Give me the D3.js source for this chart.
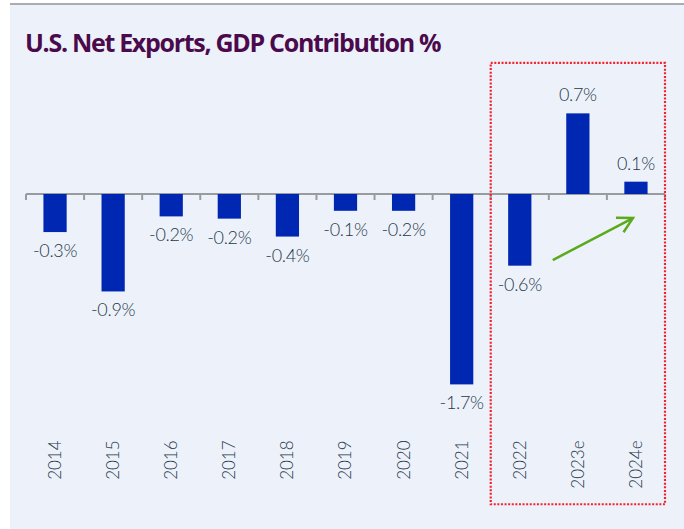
<!DOCTYPE html>
<html>
<head>
<meta charset="utf-8">
<script src="https://cdn.jsdelivr.net/npm/d3@7"></script>
<style>
  body { margin: 0; background: #fff; }
  .chart { width: 684px; height: 529px; }
</style>
</head>
<body>
<div class="chart"></div>
<script>
// data
const years = ['2014', '2015', '2016', '2017', '2018', '2019', '2020', '2021', '2022', '2023e', '2024e']
const values = [-0.34, -0.87, -0.2, -0.22, -0.38, -0.15, -0.15, -1.7, -0.64, 0.72, 0.11]
const valueLabels = ['-0.3%', '-0.9%', '-0.2%', '-0.2%', '-0.4%', '-0.1%', '-0.2%', '-1.7%', '-0.6%', '0.7%', '0.1%']
const highlighted = ['2022', '2023e', '2024e']

const W = 684, H = 529
const margin = {top: 54, right: 19, bottom: 111, left: 26}
const width = W - margin.left - margin.right
const height = H - margin.top - margin.bottom
const textColor = '#26374a'

const svg = d3.select('.chart')
  .append('svg')
    .attr('width', W)
    .attr('height', H)

// panel background + top rule
svg.append('rect')
  .attr('x', 10).attr('y', 4)
  .attr('width', W - 10).attr('height', H - 4)
  .attr('fill', '#edf2fa')
svg.append('line')
  .attr('x1', 10).attr('x2', W)
  .attr('y1', 4).attr('y2', 4)
  .attr('stroke', '#a9adb3')
  .attr('stroke-width', 2)

svg.append('text')
  .attr('x', 25).attr('y', 52)
  .attr('fill', '#4a0a4c')
  .style('font-family', '"Open Sans", sans-serif')
  .style('font-weight', 700)
  .style('font-size', '25px')
  .style('letter-spacing', '-1.3px')
  .text('U.S. Net Exports, GDP Contribution %')

const g = svg.append('g')
  .attr('transform', `translate(${margin.left}, ${margin.top})`)

const xScale = d3.scaleBand()
  .domain(years)
  .range([0, width])
  .paddingInner(0.6)
  .paddingOuter(0.3)

const yScale = d3.scaleLinear()
  .domain([-2, 1.25])
  .range([height, 0])

const slot = width / years.length   // one year's slot, ticks sit on its edges
const mid = d => xScale(d) + xScale.bandwidth() / 2

// zero line with ticks between bars
const zeroY = yScale(0)
g.append('line')
  .attr('x1', 0).attr('x2', width)
  .attr('y1', zeroY).attr('y2', zeroY)
  .attr('stroke', '#999c9f')
  .attr('stroke-width', 2)

const tickX = years.map(d => mid(d) - slot / 2)
tickX.push(width)
g.selectAll('.tick-mark')
  .data(tickX)
  .enter()
  .append('line')
    .attr('class', 'tick-mark')
    .attr('x1', d => d).attr('x2', d => d)
    .attr('y1', zeroY).attr('y2', zeroY + 6)
    .attr('stroke', '#999c9f')
    .attr('stroke-width', 2)

// bars
const rows = years.map((y, i) => ({year: y, value: values[i], label: valueLabels[i]}))

g.selectAll('.bar')
  .data(rows)
  .enter()
  .append('rect')
    .attr('class', 'bar')
    .attr('x', d => xScale(d.year))
    .attr('width', xScale.bandwidth())
    .attr('y', d => yScale(Math.max(0, d.value)))
    .attr('height', d => Math.abs(yScale(d.value) - zeroY))
    .attr('fill', '#0027b1')

g.selectAll('.val')
  .data(rows)
  .enter()
  .append('text')
    .attr('class', 'val')
    .attr('x', d => mid(d.year))
    .attr('y', d => d.value < 0 ? yScale(d.value) + 25 : yScale(d.value) - 12)
    .attr('text-anchor', 'middle')
    .attr('fill', textColor)
    .style('font-family', 'Lato, sans-serif')
    .style('font-weight', 300)
    .style('font-size', '18px')
    .style('letter-spacing', '-0.3px')
    .text(d => d.label)

// year labels, rotated
g.selectAll('.year')
  .data(years)
  .enter()
  .append('text')
    .attr('class', 'year')
    .attr('transform', d => `translate(${mid(d)}, ${yScale(-2.2)}) rotate(-90)`)
    .attr('text-anchor', 'end')
    .attr('dy', '0.35em')
    .attr('fill', textColor)
    .style('font-family', 'Lato, sans-serif')
    .style('font-weight', 300)
    .style('font-size', '17px')
    .text(d => d)

// dotted box around the forecast years
const boxLeft = mid(highlighted[0]) - slot / 2
g.append('rect')
  .attr('x', boxLeft)
  .attr('y', yScale(1.17))
  .attr('width', width - boxLeft)
  .attr('height', yScale(-2.77) - yScale(1.17))
  .attr('fill', 'none')
  .attr('stroke', '#f5222d')
  .attr('stroke-width', 2.2)
  .attr('stroke-dasharray', '2 1.6')

// green trend arrow
const ax1 = mid('2022') + 33
const ay1 = yScale(-0.59)
const ax2 = mid('2024e') - 3
const ay2 = yScale(-0.215)
const ang = Math.atan2(ay2 - ay1, ax2 - ax1)
const head = 17
const green = '#5aaa1c'
g.append('line')
  .attr('x1', ax1).attr('y1', ay1)
  .attr('x2', ax2).attr('y2', ay2)
  .attr('stroke', green).attr('stroke-width', 2.5)
g.append('polyline')
  .attr('points', [
    [ax2 - head * Math.cos(ang - 0.5), ay2 - head * Math.sin(ang - 0.5)],
    [ax2, ay2],
    [ax2 - head * Math.cos(ang + 0.5), ay2 - head * Math.sin(ang + 0.5)]
  ].map(p => p.join(',')).join(' '))
  .attr('fill', 'none')
  .attr('stroke', green).attr('stroke-width', 2.5)
</script>
</body>
</html>
